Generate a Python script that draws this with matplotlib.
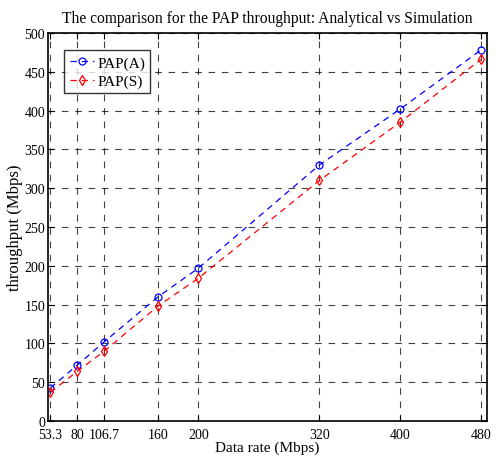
import matplotlib
matplotlib.use("Agg")
import matplotlib.pyplot as plt

rates = [53.3, 80, 106.7, 160, 200, 320, 400, 480]
tick_labels = ["53.3", "80", "106.7", "160", "200", "320", "400", "480"]
pap_a = [42.5, 72, 102, 160, 197, 330, 402, 478]
pap_s = [37, 64, 90, 148, 184, 310, 385, 466]

plt.rcParams['font.family'] = ['Liberation Serif', 'DejaVu Serif']

fig = plt.figure(figsize=(4.99, 4.60), dpi=100)
ax = fig.add_axes([48/499, 1-422/460, (487-48)/499, (422-34)/460])

ax.plot(rates, pap_a, color='blue', linestyle=(0, (5, 4)), linewidth=0.9,
        marker='o', markersize=5, markerfacecolor='none', markeredgecolor='blue',
        markeredgewidth=0.9, label='PAP(A)')
ax.plot(rates, pap_s, color='red', linestyle=(0, (5, 4)), linewidth=0.9,
        marker='d', markersize=5, markerfacecolor='none', markeredgecolor='red',
        markeredgewidth=0.9, label='PAP(S)')

ax.set_xlim(51, 486)
ax.set_ylim(0, 500)
ax.set_xticks(rates)
ax.set_xticklabels(tick_labels)
ax.set_yticks(range(0, 501, 50))
ax.tick_params(direction='in', labelsize=10, length=4, width=0.8, top=True, right=True)
ax.tick_params(axis='y', pad=2)
ax.tick_params(axis='x', pad=5)

ax.grid(True, color='black', linestyle=(0, (6, 6)), linewidth=0.8, alpha=0.75)
for s in ax.spines.values():
    s.set_linewidth(1.2)

ax.set_xlabel('Data rate (Mbps)', fontsize=11, labelpad=0)
ax.set_ylabel('throughput (Mbps)', fontsize=12)
ax.yaxis.set_label_coords(-0.058, 0.5)
ax.set_title('The comparison for the PAP throughput: Analytical vs Simulation',
             fontsize=11.2, pad=8)

leg = ax.legend(loc='upper left', bbox_to_anchor=(0.037, 0.955), fontsize=11,
                frameon=True, fancybox=False, edgecolor='black',
                handlelength=1.6, handletextpad=0.2, borderpad=0.35,
                labelspacing=0.3, borderaxespad=0)
leg.get_frame().set_linewidth(1.0)

fig.savefig('out.png', dpi=100)
